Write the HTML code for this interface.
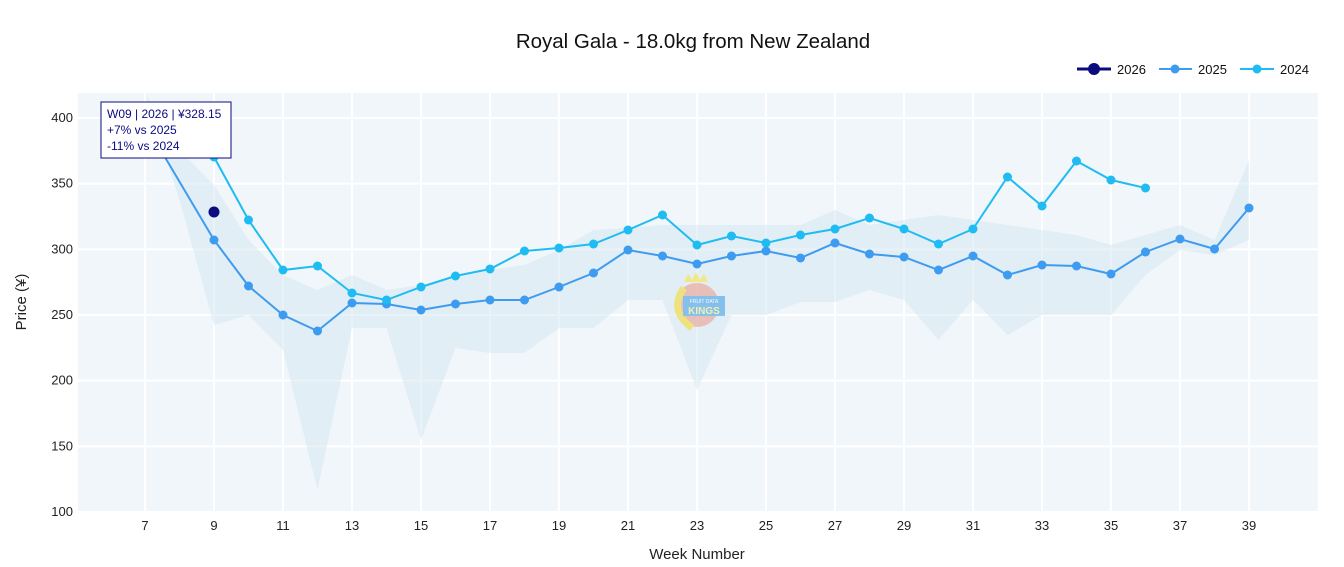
<!DOCTYPE html>
<html><head><meta charset="utf-8"><style>
body{margin:0;background:#fff;}
svg{display:block;font-family:"Liberation Sans",Arial,sans-serif;}
</style></head><body>
<svg id="s" width="1344" height="567" xmlns="http://www.w3.org/2000/svg">
<rect x="78" y="93" width="1240" height="419" fill="#f0f6fa"/>
<g id="grid"></g>
<g id="band"></g>
<g id="series"></g>
<text x="693" y="48" text-anchor="middle" font-size="20.5" fill="#111">Royal Gala - 18.0kg from New Zealand</text>
<text x="697" y="559" text-anchor="middle" font-size="15" fill="#222">Week Number</text>
<text transform="translate(26,302) rotate(-90)" text-anchor="middle" font-size="15" fill="#222">Price (¥)</text>
<g id="ticks" font-size="13" fill="#222"></g>
<line x1="1077" y1="69" x2="1111" y2="69" stroke="#0b0b80" stroke-width="3"/><circle cx="1094" cy="69" r="6" fill="#0b0b80"/>
<text x="1117" y="74" font-size="13" fill="#111">2026</text>
<line x1="1159" y1="69" x2="1192" y2="69" stroke="#3d9bf0" stroke-width="2"/><circle cx="1175" cy="69" r="4.5" fill="#3d9bf0"/>
<text x="1198" y="74" font-size="13" fill="#111">2025</text>
<line x1="1240" y1="69" x2="1274" y2="69" stroke="#1ebcf2" stroke-width="2"/><circle cx="1257" cy="69" r="4.5" fill="#1ebcf2"/>
<text x="1280" y="74" font-size="13" fill="#111">2024</text>
<g opacity="0.8">
<circle cx="697" cy="305" r="22" fill="#f08a7a" opacity="0.6"/>
<path d="M684 288 Q668 310 692 328" stroke="#f0e060" stroke-width="7" fill="none"/>
<path d="M684 282 l4 -8 l4 6 l4 -8 l4 8 l4 -6 l4 8 z" fill="#f5e76a"/>
<rect x="683" y="296" width="42" height="20" fill="#6fb5ec"/>
<text x="704" y="303" font-size="5" fill="#fff" text-anchor="middle">FRUIT DATA</text>
<text x="704" y="314" font-size="10" fill="#f5f0a0" text-anchor="middle" font-weight="bold">KINGS</text>
</g>
<rect x="101" y="102" width="130" height="56" fill="#fff" stroke="#0b0b80" stroke-width="1"/>
<text x="107" y="118" font-size="12" fill="#0b0b80">W09 | 2026 | ¥328.15</text>
<text x="107" y="134" font-size="12" fill="#0b0b80">+7% vs 2025</text>
<text x="107" y="150" font-size="12" fill="#0b0b80">-11% vs 2024</text>
</svg>
<script>
const NS="http://www.w3.org/2000/svg";
function X(w){return 145+(w-7)*34.5;}
function el(p,t,a){const e=document.createElementNS(NS,t);for(const k in a)e.setAttribute(k,a[k]);p.appendChild(e);return e;}
const grid=document.getElementById('grid'),ticks=document.getElementById('ticks');
for(let w=7;w<=39;w+=2){el(grid,'line',{x1:X(w),x2:X(w),y1:93,y2:512,stroke:'#fff','stroke-width':2});
 const t=el(ticks,'text',{x:X(w),y:530,'text-anchor':'middle'});t.textContent=w;}
for(let v=100;v<=400;v+=50){const y=512-(v-100)*394/300;
 el(grid,'line',{x1:78,x2:1318,y1:y,y2:y,stroke:'#fff','stroke-width':2});
 const t=el(ticks,'text',{x:73,y:y+4,'text-anchor':'end'});t.textContent=v;}
const up=[93,150,185,240,275,290,275,290,285,278,270,265,250,230,228,225,225,225,225,225,210,225,220,215,220,225,230,235,245,235,225,240,160];
const lo=[93,200,325,315,350,490,328,328,440,348,353,353,328,328,300,300,390,315,315,302,302,290,300,340,300,335,315,315,315,275,250,255,240];
let d='M';up.forEach((y,i)=>d+=X(7+i)+' '+y+' L');
for(let i=lo.length-1;i>=0;i--)d+=X(7+i)+' '+lo[i]+(i?' L':' Z');
el(document.getElementById('band'),'path',{d:d,fill:'#d8e9f2',opacity:0.6});
const s=document.getElementById('series');
function ser(start,ys,col,pre){let pts=ys.map((y,i)=>[X(start+i),y]);
 let dd='M'+(pre?pre.join(' ')+' L':'')+pts.map(p=>p.join(' ')).join(' L');
 el(s,'path',{d:dd,stroke:col,'stroke-width':2,fill:'none'});
 pts.forEach(p=>el(s,'circle',{cx:p[0],cy:p[1],r:4.5,fill:col}));}
ser(9,[240,286,315,331,303,304,310,304,300,300,287,273,250,256,264,256,251,258,243,254,257,270,256,275,265,266,274,252,239,249,208],'#3d9bf0',[140,115]);
ser(9,[157,220,270,266,293,300,287,276,269,251,248,244,230,215,245,236,243,235,229,218,229,244,229,177,206,161,180,188],'#1ebcf2',null);
el(s,'circle',{cx:X(9),cy:212,r:5.5,fill:'#0b0b80'});
</script>
</body></html>
